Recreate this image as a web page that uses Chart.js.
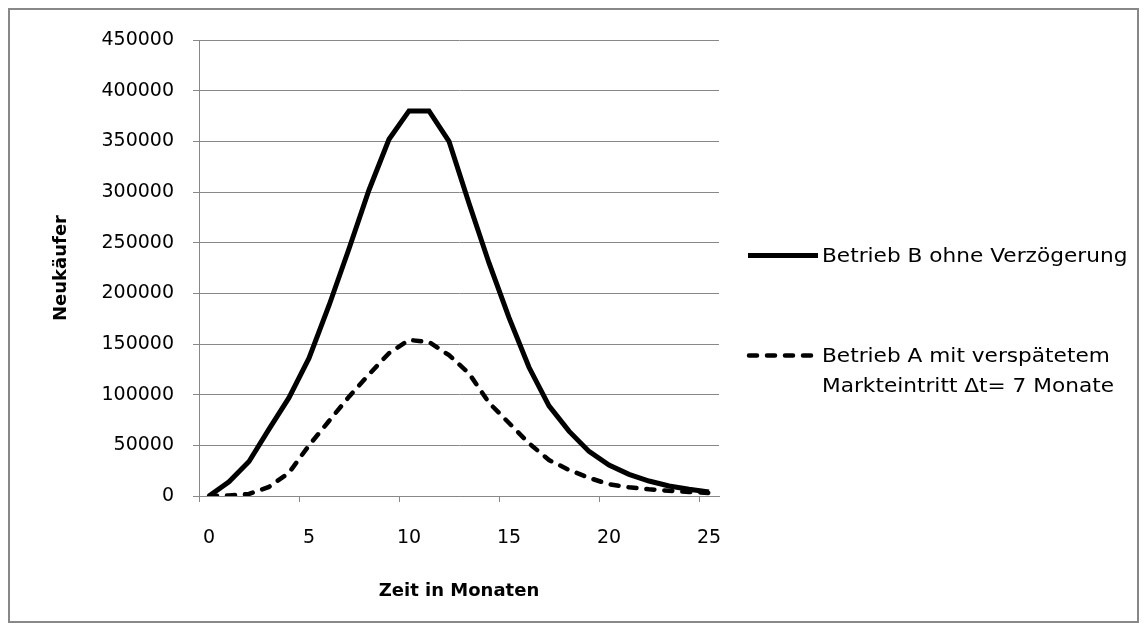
<!DOCTYPE html>
<html>
<head>
<meta charset="utf-8">
<script src="https://cdn.jsdelivr.net/npm/chart.js@4.4.1/dist/chart.umd.min.js"></script>
<style>
  body { margin: 0; background: #fff; }
  #wrap { position: relative; width: 1147px; height: 632px; }
  #frame { position: absolute; left: 8px; top: 8px; width: 1127px; height: 611px; border: 2px solid #888; }
  #my-chart { position: absolute; left: 0; top: 0; }
  .leg { position: absolute; font: 19px "DejaVu Sans", sans-serif; color: #000; line-height: 30px; white-space: nowrap; }
  .leg span { display: inline-block; transform: scaleX(1.14); transform-origin: left center; }
  .leg svg { position: absolute; left: -76px; top: 13px; }
</style>
</head>
<body>
<div id="wrap">
  <div id="frame"></div>
  <canvas id="my-chart" width="1147" height="632"></canvas>
  <div class="leg" style="left:822px; top:240px;">
    <svg width="74" height="6"><line x1="2" y1="2.5" x2="72" y2="2.5" stroke="#000" stroke-width="5"/></svg>
    <span>Betrieb B ohne Verzögerung</span>
  </div>
  <div class="leg" style="left:822px; top:340px;">
    <svg width="74" height="6"><line x1="3" y1="2.5" x2="72" y2="2.5" stroke="#000" stroke-width="4.5" stroke-dasharray="8 10" stroke-linecap="round"/></svg>
    <span>Betrieb A mit verspätetem<br>Markteintritt Δt= 7 Monate</span>
  </div>
</div>
<script>
// months on the category axis
const months = [0,1,2,3,4,5,6,7,8,9,10,11,12,13,14,15,16,17,18,19,20,21,22,23,24,25];

// Betrieb B ohne Verzoegerung
const betriebB = [0, 14000, 34000, 66000, 97000, 136000, 188000, 244000, 302000, 352000,
  380000, 380000, 350000, 289000, 230000, 176000, 127000, 89000, 64000, 44000,
  30600, 21400, 14800, 9900, 6600, 4000];

// Betrieb A mit verspaetetem Markteintritt
const betriebA = [0, 500, 2000, 9000, 23000, 50000, 74000, 98000, 120000, 141000,
  154000, 152000, 139000, 121000, 92000, 72000, 52000, 35500, 25700, 18000,
  11500, 8600, 6600, 5200, 4000, 3000];

const xTickLabels = [0, 5, 10, 15, 20, 25];
const yTicks = [0, 50000, 100000, 150000, 200000, 250000, 300000, 350000, 400000, 450000];

Chart.defaults.font.family = '"DejaVu Sans", sans-serif';
Chart.defaults.font.size = 19;
Chart.defaults.color = '#000';

const ctx = document.getElementById("my-chart");

new Chart(ctx, {
  type: "line",
  data: {
    labels: months,
    datasets: [
      {
        label: "Betrieb B ohne Verzögerung",
        data: betriebB,
        borderColor: "#000",
        borderWidth: 5,
        pointRadius: 0,
        tension: 0,
      },
      {
        label: "Betrieb A mit verspätetem Markteintritt Δt= 7 Monate",
        data: betriebA,
        borderColor: "#000",
        borderWidth: 4.5,
        borderDash: [8, 10],
        borderCapStyle: "round",
        pointRadius: 0,
        tension: 0,
      },
    ],
  },
  options: {
    responsive: false,
    animation: false,
    layout: { padding: { left: 40, top: 40, right: 428, bottom: 0 } },
    plugins: { legend: { display: false }, tooltip: { enabled: false } },
    scales: {
      x: {
        type: "category",
        offset: true,
        grid: {
          offset: true,
          drawOnChartArea: false,
          tickLength: 6,
          color: (c) => (c.index % 5 === 0 ? "#888" : "rgba(0,0,0,0)"),
        },
        border: { color: "#888" },
        ticks: {
          autoSkip: false,
          maxRotation: 0,
          padding: 25,
          callback: function (v) {
            const lab = this.getLabelForValue(v);
            return xTickLabels.includes(Number(lab)) ? String(lab) : "";
          },
        },
        title: {
          display: true,
          text: "Zeit in Monaten",
          font: { weight: "bold", size: 18 },
          padding: { top: 0, bottom: 30 },
        },
        afterFit: (s) => { s.height = 136; },
      },
      y: {
        min: 0,
        max: 450000,
        afterBuildTicks: (s) => { s.ticks = yTicks.map((v) => ({ value: v })); },
        ticks: { padding: 19, callback: (v) => String(v) },
        grid: { color: "#888", tickLength: 6 },
        border: { color: "#888" },
        title: {
          display: true,
          text: "Neukäufer",
          font: { weight: "bold", size: 18 },
          padding: { top: 11, bottom: 0 },
        },
        afterFit: (s) => { s.width = 159; },
      },
    },
  },
});
</script>
</body>
</html>
